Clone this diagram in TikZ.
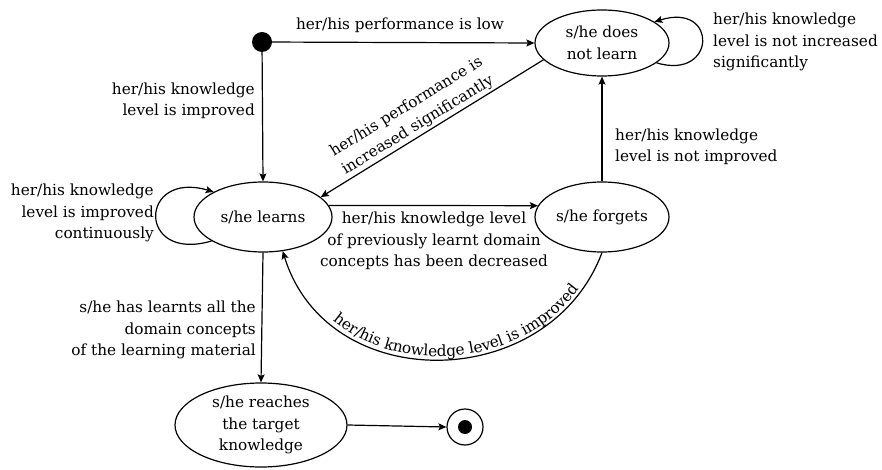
\documentclass[tikz,border=0pt]{standalone}
\usepackage{fontspec}
\setmainfont{DejaVu Serif}
\usetikzlibrary{arrows.meta,shapes.geometric,decorations.text}
\newcommand\lblfont{\fontsize{15.3}{21.5}\selectfont}

\begin{document}
\begin{tikzpicture}[x=1pt,y=-1pt,
  font=\lblfont,
  state/.style={draw,ellipse,line width=1.2pt,inner sep=0pt,align=center},
  edge/.style={draw,line width=1.2pt,-{Stealth[length=8pt,width=7pt,inset=1.5pt]}},
  lbl/.style={inner sep=0pt}]
\useasboundingbox (0,0) rectangle (882,470);

% states
\node[circle,fill,inner sep=0pt,minimum size=20pt] (init) at (262,42) {};
\node[state,minimum width=134pt,minimum height=66pt] (dnl) at (602,43) {s/he does\\not learn};
\node[state,minimum width=138pt,minimum height=70pt] (learns) at (263,217) {s/he learns};
\node[state,minimum width=134pt,minimum height=70pt] (forgets) at (602,217) {s/he forgets};
\node[state,minimum width=172pt,minimum height=84pt] (reach) at (261,425) {s/he reaches\\the target\\knowledge};
\node[circle,draw,line width=1.2pt,inner sep=0pt,minimum size=36pt] (final) at (465,427) {};
\node[circle,fill,inner sep=0pt,minimum size=14pt] (finaldot) at (final) {};

% transitions
\draw[edge] (init) -- (dnl.west);
\draw[edge] (init) -- (learns.north);
\draw[edge] (dnl.196) -- node[lbl,pos=0.54,sloped,above=2pt,align=center] {her/his performance is\\increased significantly} (learns.19);
\draw[edge] (learns.10) -- (forgets.170);
\draw[edge] (forgets.north) -- (dnl.south);
\draw[edge] (learns.south) -- (reach.north);
\draw[edge] (reach.east) -- (final.west);
\draw[edge] (dnl.-20) .. controls +(60,18) and +(64,-20) .. (dnl.22);
\draw[edge] (learns.205) .. controls +(-75,22) and +(-75,-22) .. (learns.153);
\draw[edge] (forgets.south) .. controls +(-53,141) and +(45,146) .. (learns.-60);
\path[postaction={decorate},decoration={text along path,text align={center,left indent=44pt},raise=3pt,
  text={|\lblfont|her/his knowledge level is improved}}]
  (learns.-60) .. controls +(45,146) and +(-53,141) .. (forgets.south);

% labels
\node[lbl] (lowperf) at (400,25) {her/his performance is low};
\node[lbl,anchor=west,align=left] (stuck) at (713,42) {her/his knowledge\\level is not increased\\significantly};
\node[lbl,anchor=east,align=right] (improved) at (255,101) {her/his knowledge\\level is improved};
\node[lbl,anchor=east,align=right] (continuous) at (154,213) {her/his knowledge\\level is improved\\continuously};
\node[lbl,align=center] (decreased) at (434,241) {her/his knowledge level\\of previously learnt domain\\concepts has been decreased};
\node[lbl,anchor=west,align=left] (notimproved) at (615,147) {her/his knowledge\\level is not improved};
\node[lbl,anchor=east,align=right] (learntall) at (256,330) {s/he has learnts all the\\domain concepts\\of the learning material};
\end{tikzpicture}
\end{document}
